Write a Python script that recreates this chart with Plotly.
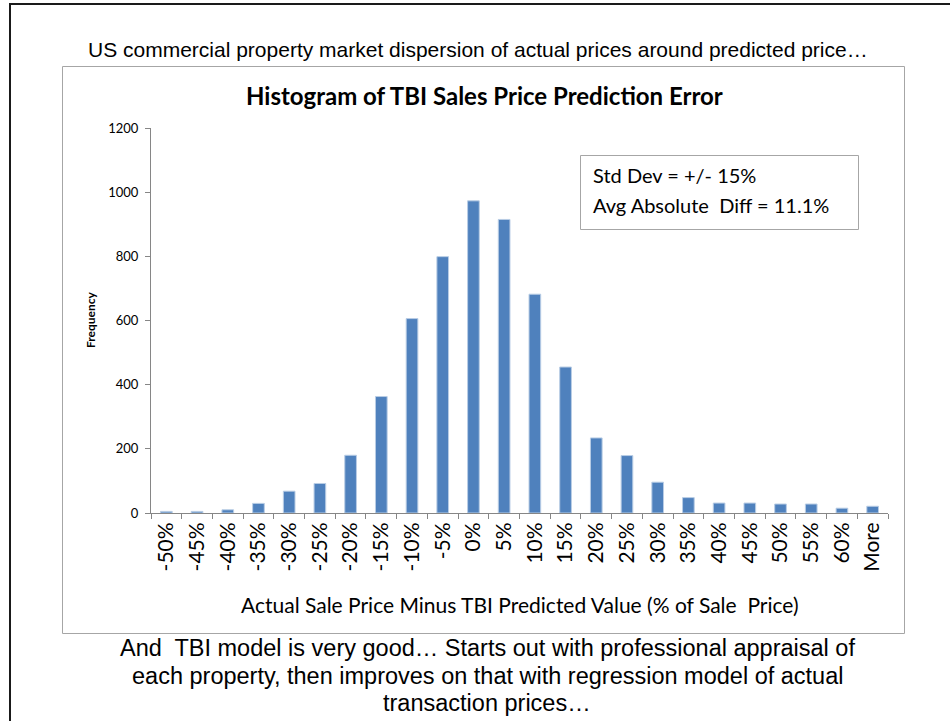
import plotly.graph_objects as go

categories = ["-50%", "-45%", "-40%", "-35%", "-30%", "-25%", "-20%", "-15%", "-10%", "-5%",
              "0%", "5%", "10%", "15%", "20%", "25%", "30%", "35%", "40%", "45%", "50%",
              "55%", "60%", "More"]
frequency = [5, 5, 10, 30, 68, 92, 180, 363, 606, 799, 973, 915, 682, 455, 234, 179,
             96, 48, 31, 31, 28, 28, 15, 21]
y_ticks = [0, 200, 400, 600, 800, 1000, 1200]

top_text = "US commercial property market dispersion of actual prices around predicted price…"
chart_title = "Histogram of TBI Sales Price Prediction Error"
stats_lines = ["Std Dev = +/- 15%", "Avg Absolute  Diff = 11.1%"]
x_title = "Actual Sale Price Minus TBI Predicted Value (% of Sale  Price)"
y_title = "Frequency"
bottom_lines = ["And  TBI model is very good… Starts out with professional appraisal of",
                "each property, then improves on that with regression model of actual",
                "transaction prices…"]

W, H = 950, 721
L, R, T, B = 151, 62, 128, 208


def px(x):
    return (x - L) / (W - L - R)


def py(y):
    return (H - B - y) / (H - T - B)


ARIAL = "Liberation Sans, Arial, sans-serif"
CAL = "Lato, Carlito, Calibri, sans-serif"
AXIS_GRAY = "#868686"

fig = go.Figure()
fig.add_trace(go.Bar(
    x=categories, y=frequency, width=0.38,
    marker=dict(color="#4F81BD", line=dict(color="#B9CDE5", width=1)),
))

shapes = [
    # slide frame
    dict(type="path", xref="paper", yref="paper",
         path=f"M {px(10)} {py(725)} L {px(10)} {py(4)} L {px(952)} {py(4)}",
         line=dict(color="#1a1a1a", width=2)),
    # chart area box
    dict(type="rect", xref="paper", yref="paper",
         x0=px(62.5), x1=px(904.5), y0=py(633.5), y1=py(66.5),
         line=dict(color="#A6A6A6", width=1), layer="below"),
    # stats box
    dict(type="rect", xref="paper", yref="paper",
         x0=px(580.5), x1=px(858.5), y0=py(229.5), y1=py(155.5),
         line=dict(color="#A6A6A6", width=1), fillcolor="white"),
]

annotations = [
    dict(text=top_text, x=px(477.5), y=py(50), xref="paper", yref="paper",
         showarrow=False, xanchor="center", yanchor="middle",
         font=dict(family=ARIAL, size=21, color="black")),
    dict(text=f"<b>{chart_title}</b>", x=px(484), y=py(95), xref="paper", yref="paper",
         showarrow=False, xanchor="center", yanchor="middle",
         font=dict(family=CAL, size=24, color="black")),
    dict(text=stats_lines[0], x=px(591), y=py(175), xref="paper", yref="paper",
         showarrow=False, xanchor="left", yanchor="middle",
         font=dict(family=CAL, size=20, color="black")),
    dict(text=stats_lines[1], x=px(591), y=py(205), xref="paper", yref="paper",
         showarrow=False, xanchor="left", yanchor="middle",
         font=dict(family=CAL, size=20, color="black")),
    dict(text=f"<b>{y_title}</b>", x=px(90), y=py(320), xref="paper", yref="paper",
         showarrow=False, xanchor="center", yanchor="middle", textangle=-90,
         font=dict(family=CAL, size=12, color="black")),
    dict(text=x_title, x=px(520), y=py(604), xref="paper", yref="paper",
         showarrow=False, xanchor="center", yanchor="middle",
         font=dict(family=CAL, size=21, color="black")),
]
for i, line in enumerate(bottom_lines):
    annotations.append(dict(text=line, x=px(487), y=py(648 + 27.5 * i), xref="paper", yref="paper",
                            showarrow=False, xanchor="center", yanchor="middle",
                            font=dict(family=ARIAL, size=23.5, color="black")))

fig.update_layout(
    width=W, height=H,
    margin=dict(l=L, r=R, t=T, b=B, pad=0),
    paper_bgcolor="white", plot_bgcolor="white",
    showlegend=False,
    shapes=shapes, annotations=annotations,
    xaxis=dict(
        type="category", showgrid=False, showline=True, linecolor=AXIS_GRAY, linewidth=1,
        ticks="outside", tickson="boundaries", ticklen=5, tickcolor=AXIS_GRAY,
        tickangle=-90, tickfont=dict(family=CAL, size=21, color="black"),
        ticklabelstandoff=0, zeroline=False,
    ),
    yaxis=dict(
        range=[0, 1200], tickvals=y_ticks, showgrid=False, showline=True,
        linecolor=AXIS_GRAY, linewidth=1, ticks="outside", ticklen=5, tickcolor=AXIS_GRAY,
        tickfont=dict(family=CAL, size=13, color="black"), ticklabelstandoff=4,
        zeroline=False,
    ),
)

fig.write_html("out.html", config={"displayModeBar": False},
               post_script="document.body.style.margin='0';")
